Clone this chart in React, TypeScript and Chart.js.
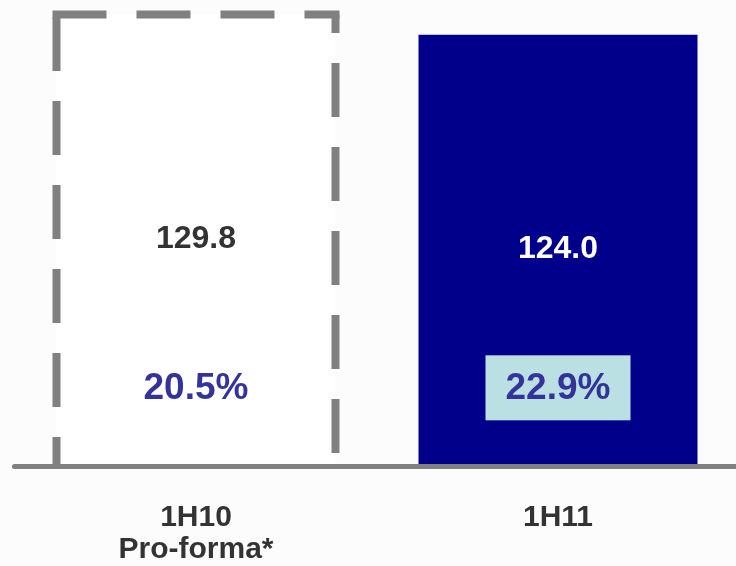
import React, { useEffect, useRef } from 'react';
import { Chart, registerables } from 'chart.js';

Chart.register(...registerables);

// Half-year periods shown on the category axis (multi-line labels)
const periods: string[][] = [['1H10', 'Pro-forma*'], ['1H11']];
// Revenue per period
const revenue: number[] = [129.8, 124.0];
// Margin per period, in percent
const marginPct: number[] = [20.5, 22.9];
// Value on the y scale where the margin labels sit
const MARGIN_ROW = 22;

const FONT = '"Liberation Sans", Arial, Helvetica, sans-serif';
const GREY = '#808080';
const NAVY = '#00008B';
const MARGIN_TEXT = '#333399';
const MARGIN_BOX = '#BBE0E3';

const overlay = {
  id: 'revenueOverlay',
  afterDatasetsDraw(chart: any) {
    const ctx: CanvasRenderingContext2D = chart.ctx;
    const meta = chart.getDatasetMeta(0);
    const yScale = chart.scales.y;

    const bars = meta.data.map((el: any) =>
      el.getProps(['x', 'y', 'base', 'width'], true)
    );

    ctx.save();

    // dashed outline of the pro-forma bar
    const p = bars[0];
    const left = p.x - p.width / 2;
    const right = p.x + p.width / 2;
    ctx.strokeStyle = GREY;
    ctx.lineWidth = 8;
    ctx.lineCap = 'butt';
    ctx.setLineDash([54, 30]);

    ctx.lineDashOffset = 0;
    ctx.beginPath();
    ctx.moveTo(left, p.y + 2.5);
    ctx.lineTo(left, p.base);
    ctx.stroke();

    ctx.beginPath();
    ctx.moveTo(left - 4, p.y);
    ctx.lineTo(right + 4, p.y);
    ctx.stroke();

    ctx.lineDashOffset = 35.5;
    ctx.beginPath();
    ctx.moveTo(right, p.y);
    ctx.lineTo(right, p.base);
    ctx.stroke();
    ctx.setLineDash([]);

    // axis baseline
    const base = bars[0].base;
    ctx.strokeStyle = GREY;
    ctx.lineWidth = 5;
    ctx.lineCap = 'round';
    ctx.beginPath();
    ctx.moveTo(14.5, base + 2.5);
    ctx.lineTo(chart.width + 5, base + 2.5);
    ctx.stroke();

    // revenue labels, centred in each bar
    ctx.textAlign = 'center';
    ctx.textBaseline = 'middle';
    ctx.font = `bold 32px ${FONT}`;
    bars.forEach((b: any, i: number) => {
      ctx.fillStyle = i === 0 ? '#333333' : '#FFFFFF';
      ctx.fillText(revenue[i].toFixed(1), b.x, (b.y + b.base) / 2);
    });

    // margin labels
    const my = yScale.getPixelForValue(MARGIN_ROW);
    ctx.font = `bold 37px ${FONT}`;
    bars.forEach((b: any, i: number) => {
      if (i === 1) {
        ctx.fillStyle = MARGIN_BOX;
        ctx.fillRect(b.x - 72.5, my - 32.5, 145, 65);
      }
      ctx.fillStyle = MARGIN_TEXT;
      ctx.fillText(`${marginPct[i].toFixed(1)}%`, b.x, my + 1);
    });

    ctx.restore();
  },
};

export default function App() {
  const canvasRef = useRef<HTMLCanvasElement | null>(null);

  useEffect(() => {
    const canvas = canvasRef.current;
    if (!canvas) return;
    const chart = new Chart(canvas, {
      type: 'bar',
      data: {
        labels: periods,
        datasets: [
          {
            data: revenue,
            backgroundColor: ['#FFFFFF', NAVY],
            borderWidth: 0,
            barPercentage: 0.7707,
            categoryPercentage: 1,
          },
        ],
      },
      options: {
        animation: false,
        responsive: false,
        maintainAspectRatio: false,
        layout: { padding: { left: 15, right: 1, top: 0, bottom: 0 } },
        plugins: {
          legend: { display: false },
          tooltip: { enabled: false },
        },
        scales: {
          x: {
            grid: { display: false, drawTicks: false },
            border: { display: false },
            ticks: {
              color: '#333333',
              font: { family: FONT, size: 30, weight: 'bold', lineHeight: 1.05 },
              padding: 38,
              maxRotation: 0,
              autoSkip: false,
            },
            afterFit: (scale: any) => {
              scale.height = 102;
            },
          },
          y: { display: false, min: 0, max: 134 },
        },
      },
      plugins: [overlay],
    });
    return () => chart.destroy();
  }, []);

  return (
    <div
      style={{
        position: 'absolute',
        left: 0,
        top: 0,
        width: 736,
        height: 566,
        overflow: 'hidden',
        background: '#FCFCFC',
      }}
    >
      <canvas ref={canvasRef} width={740} height={566} style={{ display: 'block' }} />
    </div>
  );
}
